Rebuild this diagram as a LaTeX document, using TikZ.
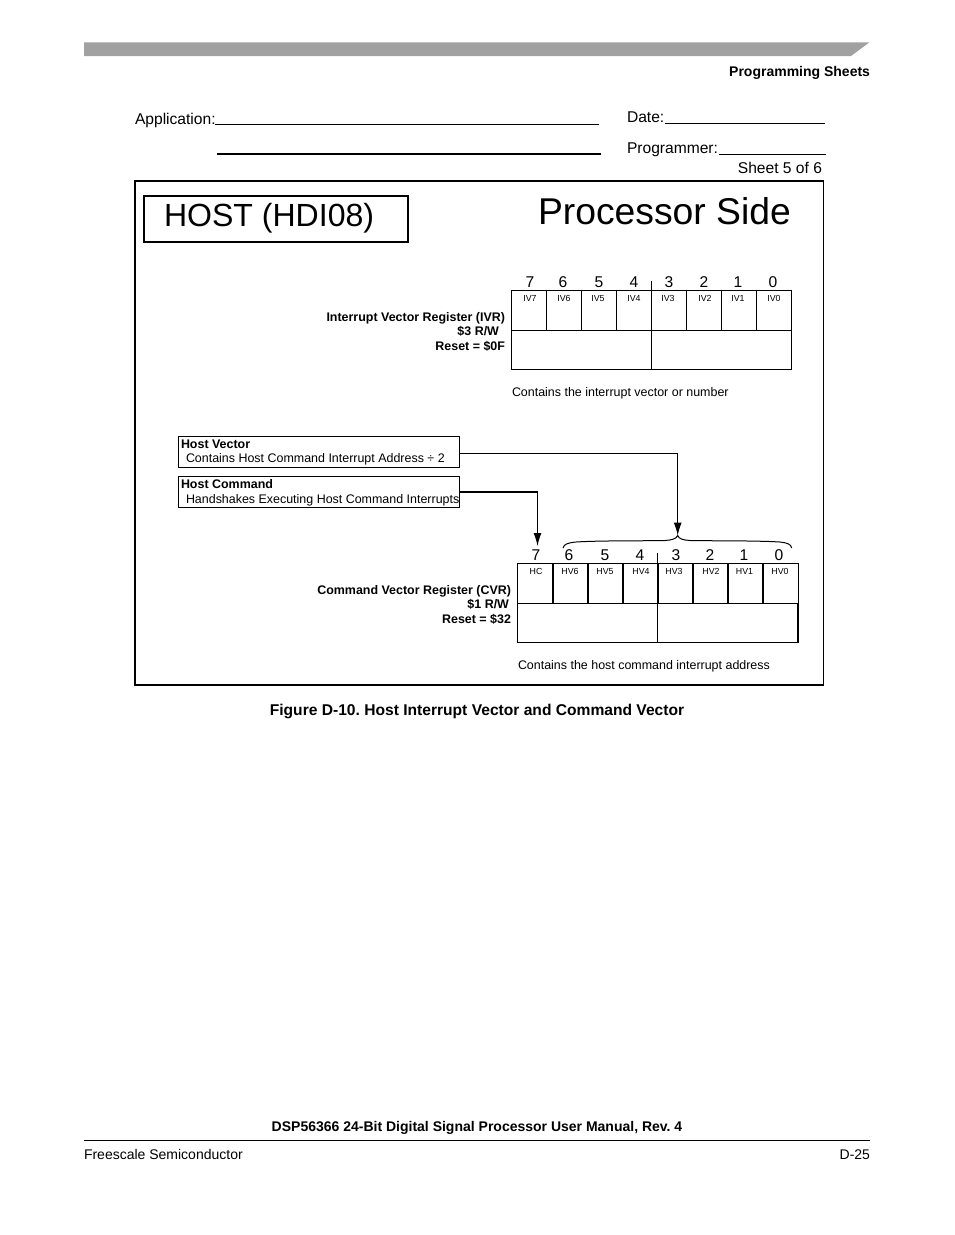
\documentclass[tikz,border=0pt]{standalone}
\usepackage{fontspec}
\setmainfont{Liberation Sans}
\usetikzlibrary{arrows.meta}
\newcommand{\fs}[1]{\fontsize{#1}{#1}\selectfont}
\tikzset{
  x=1pt,y=-1pt,
  txt/.style={inner sep=0pt,outer sep=0pt,anchor=base west,text=black},
  rtxt/.style={txt,anchor=base east},
  ctxt/.style={txt,anchor=base},
  form/.style={txt,font=\fs{15.6}},
  small/.style={font=\fs{12.45}},
  smallb/.style={font=\bfseries\fs{12.45}},
  bit/.style={ctxt,font=\fs{15.6}},
  cellname/.style={ctxt,font=\fs{8.8}},
  cell/.style={draw,line width=1pt,inner sep=0pt,outer sep=0pt,anchor=north west},
  rule/.style={line width=1pt},
  lbox/.style={draw,line width=1pt,inner sep=0pt,outer sep=0pt,anchor=north west,minimum width=281.5pt,minimum height=30.8pt},
  tip/.style={-{Latex[length=13pt,width=8pt]}},
}
\begin{document}
\frenchspacing
\begin{tikzpicture}
\useasboundingbox[fill=white] (0,0) rectangle (954,1235);
% header band
\fill[black!37] (84,42.3) -- (869.5,42.3) -- (851,56) -- (84,56) -- cycle;
\node[rtxt,font=\bfseries\fs{14}] (hdr) at (870,76) {Programming Sheets};
% form
\node[form] (app) at (135,124) {Application:};
\coordinate (a1) at (215,124.5); \coordinate (a2) at (599,124.5);
\draw[rule] (a1) -- (a2);
\coordinate (b1) at (217,154); \coordinate (b2) at (601,154);
\draw[line width=2pt] (b1) -- (b2);
\node[form] (date) at (627,122) {Date:};
\coordinate (d1) at (665,123); \coordinate (d2) at (825,123);
\draw[rule] (d1) -- (d2);
\node[form] (prog) at (627,153) {Programmer:};
\coordinate (p1) at (719,154.5); \coordinate (p2) at (826,154.5);
\draw[rule] (p1) -- (p2);
\node[rtxt,font=\fs{15.6}] (sheet) at (822,173) {Sheet 5 of 6};
% frame
\node[draw,line width=1.1pt,inner sep=0pt,outer sep=0pt,anchor=north west,minimum width=688.5pt,minimum height=504pt] (frame) at (135,181) {};
\node[draw,line width=2.5pt,inner sep=0pt,outer sep=0pt,anchor=north west,minimum width=264pt,minimum height=46pt] (hostbox) at (144,196) {};
\node[txt,font=\fs{32.05}] (host) at (164,226.5) {HOST (HDI08)};
\node[txt,font=\fs{37.3}] (side) at (538,224) {Processor Side};
% IVR
\foreach \n/\x/\nx/\lx/\l in {7/511.5/530/530/IV7,6/546.5/563/564/IV6,5/581.5/599/598/IV5,4/616.5/634/634/IV4,3/651.5/669/668/IV3,2/686.5/704/705/IV2,1/721.5/738/738/IV1,0/756.5/773/774/IV0}{
  \node[cell,minimum width=35pt,minimum height=40pt] (ivc\n) at (\x,290.5) {};
  \node[bit] (ivb\n) at (\nx,287) {\n};
  \node[cellname] (ivl\n) at (\lx,301) {\l};
}
\node[cell,minimum width=140pt,minimum height=39pt] (ivlo) at (511.5,330.5) {};
\node[cell,minimum width=140pt,minimum height=39pt] (ivhi) at (651.5,330.5) {};
\coordinate (ivt) at (651.5,281);
\draw[rule] (ivt) -- (ivc3.north west);
\node[rtxt,smallb] (ivr1) at (505,321) {Interrupt Vector Register (IVR)};
\node[rtxt,smallb] (ivr2) at (499,335.5) {\$3 R/W};
\node[rtxt,smallb] (ivr3) at (505,350) {Reset = \$0F};
\node[txt,small] (ivn) at (512,396) {Contains the interrupt vector or number};
% CVR
\foreach \n/\x/\nx/\lx/\l in {7/517.5/536/536/HC,6/552.5/569/570/HV6,5/587.5/605/605/HV5,4/622.5/640/641/HV4,3/657.5/676/674/HV3,2/692.5/710/711/HV2,1/727.5/744/744.5/HV1,0/762.5/779/780/HV0}{
  \node[cell,minimum width=35.5pt,minimum height=40pt] (cvc\n) at (\x,563.5) {};
  \node[bit] (cvb\n) at (\nx,560) {\n};
  \node[cellname] (cvl\n) at (\lx,574) {\l};
}
\draw[line width=1.8pt] (cvc7.north east) -- (cvc7.south east);
\node[cell,minimum width=140pt,minimum height=39pt] (cvlo) at (517.5,603.5) {};
\node[cell,minimum width=140.5pt,minimum height=39pt,line width=1.2pt] (cvhi) at (657.5,603.5) {};
\coordinate (cvt) at (657.5,553);
\draw[rule] (cvt) -- (cvc3.north west);
\node[rtxt,smallb] (cvr1) at (511,594) {Command Vector Register (CVR)};
\node[rtxt,smallb] (cvr2) at (509,608) {\$1 R/W};
\node[rtxt,smallb] (cvr3) at (511,623) {Reset = \$32};
\node[txt,small] (cvn) at (518,669) {Contains the host command interrupt address};
% labels
\node[lbox] (hv) at (178,436.7) {};
\node[txt,smallb] (hvt) at (181,448) {Host Vector};
\node[txt,small] (hvd) at (186,462) {Contains Host Command Interrupt Address ÷ 2};
\node[lbox] (hc) at (178,476.7) {};
\node[txt,smallb] (hct) at (181,488) {Host Command};
\node[txt,small] (hcd) at (186,503) {Handshakes Executing Host Command Interrupts};
% brace
\coordinate (br) at (677.7,535.5);
\draw[line width=1pt] (563,548) .. controls (564,544) and (568,542.8) .. (576,542)
  .. controls (600,540.5) and (640,541) .. (665,540.5)
  .. controls (672,540) and (676,539) .. (br)
  .. controls (679,539) and (683,540) .. (690,540.5)
  .. controls (715,541) and (755,540.5) .. (780,542)
  .. controls (787,542.8) and (791,544) .. (791.7,548);
% connectors
\draw[line width=1pt,tip] (hv.east |- 0,453.5) -| (br);
\coordinate (hccorner) at (537.5,491.5);
\coordinate (hcend) at (538.1,491.5);
\coordinate (hcarrow) at (537.5,546);
\draw[line width=2pt] (hc.east |- hccorner) -- (hcend);
\draw[line width=1.2pt,tip] (hccorner) -- (hcarrow);
% caption, footer
\node[ctxt,font=\bfseries\fs{15.6}] (cap) at (477,715) {Figure D-10. Host Interrupt Vector and Command Vector};
\node[ctxt,font=\bfseries\fs{14}] (man) at (477,1131) {DSP56366 24-Bit Digital Signal Processor User Manual, Rev. 4};
\coordinate (f1) at (84,1140.5); \coordinate (f2) at (870,1140.5);
\draw[rule] (f1) -- (f2);
\node[txt,font=\fs{14}] (fs) at (84,1159) {Freescale Semiconductor};
\node[rtxt,font=\fs{14}] (pg) at (870,1159) {D-25};
\end{tikzpicture}
\end{document}
